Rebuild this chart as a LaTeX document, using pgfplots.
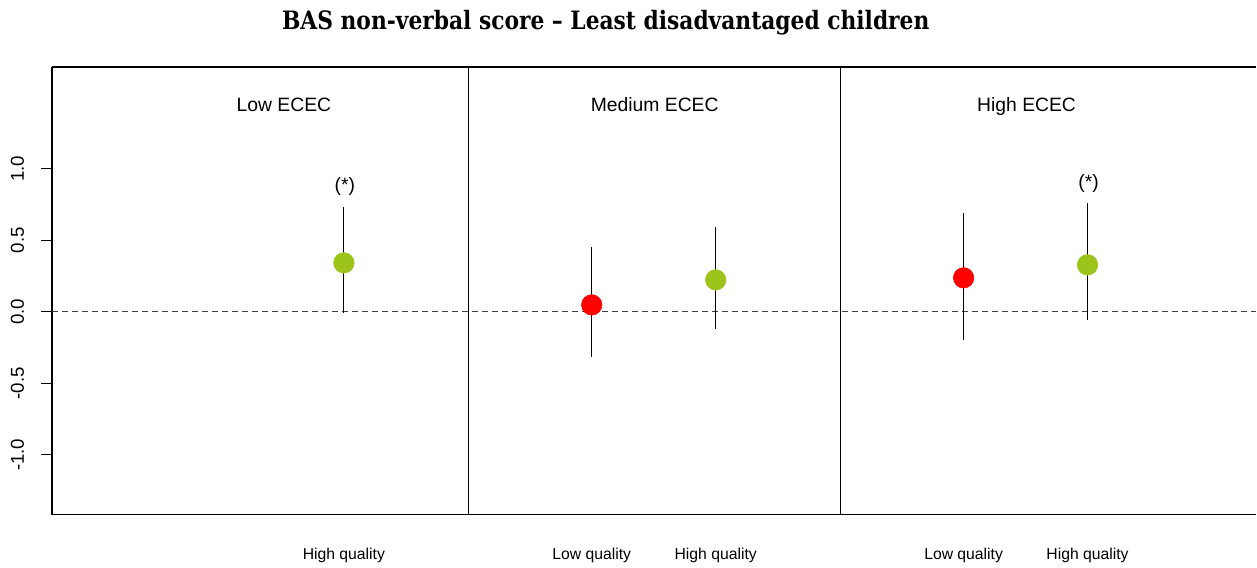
\documentclass[border=0pt]{standalone}
\usepackage{fontspec}
\setmainfont{Liberation Sans}
\newfontfamily\titlefont[FakeStretch=0.86]{DejaVu Serif}
\usepackage{pgfplots}
\pgfplotsset{compat=1.18}
\definecolor{ptgreen}{HTML}{9DC41A}
\definecolor{ptred}{HTML}{FF0000}
\begin{document}
\begin{tikzpicture}
\begin{axis}[
    scale only axis,
    width=903.75pt, height=336pt,
    xmin=52, xmax=1257,
    ymin=-1.4196, ymax=1.7133,
    axis y line*=left,
    axis line style={black, line width=0.8pt},
    clip=false,
    xtick={344,592,716,964,1088},
    xticklabels={High quality, Low quality, High quality, Low quality, High quality},
    x tick label style={font=\fontsize{11.8}{14}\selectfont, yshift=-13pt},
    major x tick style={draw=none},
    ytick={-1,-0.5,0,0.5,1},
    yticklabels={-1.0,-0.5,0.0,0.5,1.0},
    y tick label style={rotate=90, anchor=south, font=\fontsize{14}{16}\selectfont},
    yticklabel shift=9pt,
    ytick pos=left,
    tick align=outside,
    major tick length=8.5pt,
    major y tick style={black, line width=0.8pt},
    extra x ticks={469,841},
    extra x tick labels={},
    extra x tick style={grid=major, major grid style={black, line width=0.8pt}, major tick length=0pt},
    extra y ticks={0},
    extra y tick labels={},
    extra y tick style={grid=major, major grid style={black!75, line width=0.75pt, dash pattern=on 4.5pt off 3pt}, major tick length=0pt},
    error bars/y dir=both,
    error bars/y explicit,
    error bars/error mark=none,
    error bars/error bar style={black, line width=0.75pt},
]
% x in panel pixel positions, y estimated values with upper/lower bounds
\addplot[only marks, mark=*, mark size=7.7pt, color=ptred] coordinates {
  (592,0.049) += (0,0.406) -= (0,0.364)
  (964,0.238) += (0,0.454) -= (0,0.434)
};
\addplot[only marks, mark=*, mark size=7.7pt, color=ptgreen] coordinates {
  (344,0.343) += (0,0.391) -= (0,0.348)
  (716,0.224) += (0,0.370) -= (0,0.343)
  (1088,0.329) += (0,0.433) -= (0,0.385)
};
\node[anchor=base, font=\fontsize{14.5}{16}\selectfont] at (axis cs:284,1.402) {Low ECEC};
\node[anchor=base, font=\fontsize{14.5}{16}\selectfont] at (axis cs:655,1.402) {Medium ECEC};
\node[anchor=base, font=\fontsize{14.5}{16}\selectfont] at (axis cs:1027,1.402) {High ECEC};
\node[font=\fontsize{14.5}{16}\selectfont] at (axis cs:345,0.874) {(*)};
\node[font=\fontsize{14.5}{16}\selectfont] at (axis cs:1089,0.895) {(*)};
\node[font=\titlefont\bfseries\fontsize{19}{21}\selectfont] at (axis cs:606,2.02) {BAS non-verbal score – Least disadvantaged children};
\path (axis cs:0,2.1818) rectangle (axis cs:1257,-1.7832);
\end{axis}
\end{tikzpicture}
\end{document}
